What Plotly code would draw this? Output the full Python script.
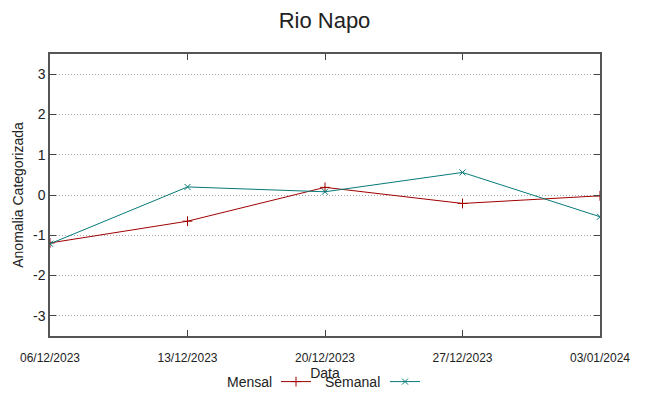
import plotly.graph_objects as go

dates = ["2023-12-06", "2023-12-13", "2023-12-20", "2023-12-27", "2024-01-03"]
tick_labels = ["06/12/2023", "13/12/2023", "20/12/2023", "27/12/2023", "03/01/2024"]
mensal = [-1.19, -0.65, 0.19, -0.21, -0.02]
semanal = [-1.21, 0.20, 0.08, 0.56, -0.54]
y_ticks = [-3, -2, -1, 0, 1, 2, 3]
y_tick_labels = ["-3", "-2", "-1", "0", "1", "2", "3"]

RED = "#a00000"
TEAL = "#077a7a"
FONT = "Liberation Sans, Arial, sans-serif"
TXT = "#222222"

L, R, T, B = 50, 49, 54, 60
W, H = 649, 396
pw = W - L - R
ph = H - T - B


def px_x(px):
    return (px - L) / pw


def px_y(py):
    return (H - B - py) / ph


fig = go.Figure()
fig.add_trace(go.Scatter(
    x=dates, y=mensal, name="", mode="lines+markers",
    line=dict(color=RED, width=1),
    marker=dict(symbol="cross-thin", size=7, line=dict(color=RED, width=1)),
    legend="legend",
))
fig.add_trace(go.Scatter(
    x=dates, y=semanal, name="", mode="lines+markers",
    line=dict(color=TEAL, width=1),
    marker=dict(symbol="x-thin", size=6, line=dict(color=TEAL, width=1)),
    legend="legend2",
))

fig.update_layout(
    width=W, height=H,
    margin=dict(l=L, r=R, t=T, b=B, autoexpand=False),
    paper_bgcolor="white", plot_bgcolor="white",
    font=dict(family=FONT, color=TXT),
    title=dict(text="Rio Napo", x=0.5, xanchor="center", y=1 - 20 / H, yanchor="middle",
               font=dict(size=22, family=FONT, color=TXT)),
    showlegend=True,
    legend=dict(x=px_x(276), y=px_y(382), xanchor="left", yanchor="middle",
                bgcolor="rgba(0,0,0,0)", itemwidth=30, font=dict(size=14)),
    legend2=dict(x=px_x(385), y=px_y(382), xanchor="left", yanchor="middle",
                 bgcolor="rgba(0,0,0,0)", itemwidth=30, font=dict(size=14)),
    xaxis=dict(
        type="date", range=[dates[0], dates[-1]], automargin=False,
        tickvals=dates, ticktext=tick_labels,
        ticks="inside", ticklen=6, tickcolor="#444444",
        ticklabelstandoff=10,
        showline=True, linecolor="#555555", linewidth=1.5, mirror="ticks",
        showgrid=False, zeroline=False,
        tickfont=dict(size=12, family=FONT, color=TXT),
        title=dict(text="Data", font=dict(size=14, family=FONT, color=TXT), standoff=0),
    ),
    yaxis=dict(
        range=[-3.5, 3.5], tickvals=y_ticks, ticktext=y_tick_labels, automargin=False,
        ticks="inside", ticklen=6, tickcolor="#444444",
        showline=True, linecolor="#555555", linewidth=1.5, mirror="ticks",
        showgrid=True, gridcolor="#a8a8a8", griddash="1px,2px", gridwidth=1,
        zeroline=False,
        tickfont=dict(size=14, family=FONT, color=TXT),
        title=dict(text="Anomalia Categorizada", font=dict(size=14, family=FONT, color=TXT), standoff=6),
    ),
    annotations=[
        dict(text="Mensal", x=px_x(274), y=px_y(382), xref="paper", yref="paper",
             xanchor="right", yanchor="middle", showarrow=False,
             font=dict(size=14, family=FONT, color=TXT)),
        dict(text="Semanal", x=px_x(382), y=px_y(382), xref="paper", yref="paper",
             xanchor="right", yanchor="middle", showarrow=False,
             font=dict(size=14, family=FONT, color=TXT)),
    ],
)

html = fig.to_html(include_plotlyjs=True, full_html=True,
                   config={"displayModeBar": False})
html = html.replace("<body>", '<body style="margin:0;padding:0;overflow:hidden">', 1)
with open("out.html", "w", encoding="utf-8") as f:
    f.write(html)
